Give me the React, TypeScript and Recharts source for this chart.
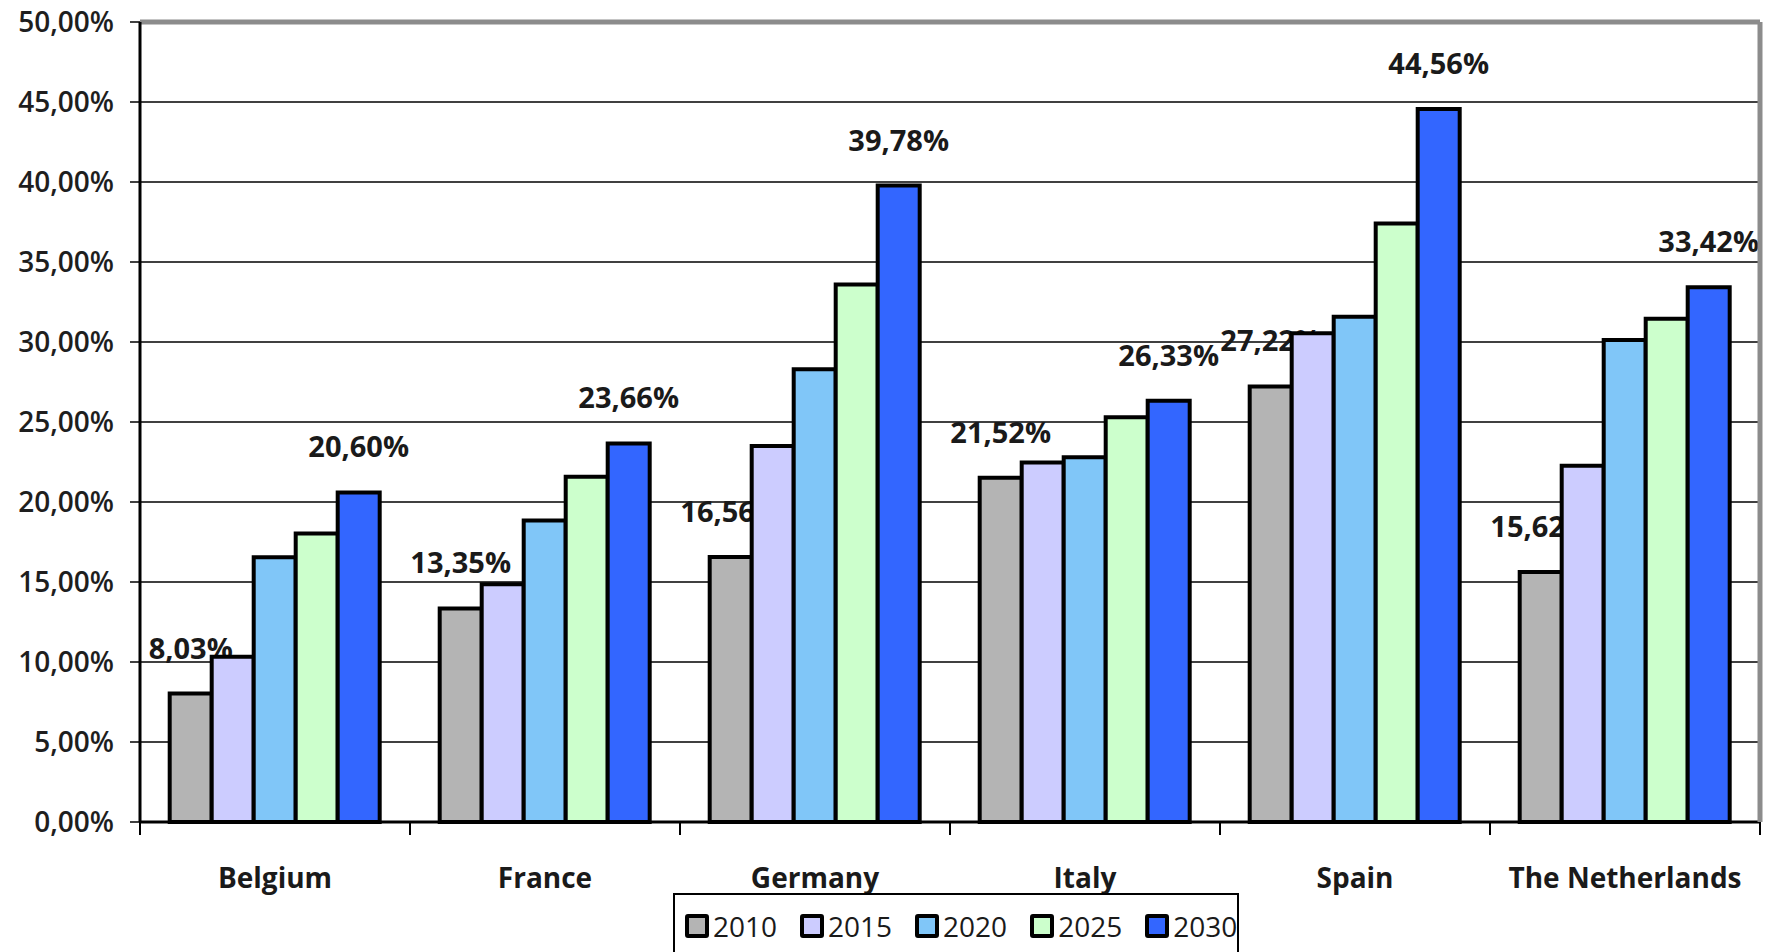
import React from 'react';
import { BarChart, Bar, XAxis, YAxis, CartesianGrid, Legend, LabelList } from 'recharts';

const countries = ['Belgium', 'France', 'Germany', 'Italy', 'Spain', 'The Netherlands'];
const years = ['2010', '2015', '2020', '2025', '2030'];
const v2010 = [8.03, 13.35, 16.56, 21.52, 27.22, 15.62];
const v2015 = [10.33, 14.86, 23.5, 22.47, 30.55, 22.26];
const v2020 = [16.55, 18.84, 28.3, 22.8, 31.58, 30.12];
const v2025 = [18.03, 21.58, 33.6, 25.3, 37.4, 31.45];
const v2030 = [20.6, 23.66, 39.78, 26.33, 44.56, 33.42];
const yTicks = [0, 5, 10, 15, 20, 25, 30, 35, 40, 45, 50];

const colors = ['#b4b4b4', '#ccccff', '#80c6f8', '#ccffcc', '#3366ff'];
const series = [v2010, v2015, v2020, v2025, v2030];

const data = countries.map((country, i) => {
  const row: Record<string, string | number> = { country };
  years.forEach((y, s) => {
    row['y' + y] = series[s][i];
  });
  return row;
});

const W = 1769;
const H = 952;
const LEFT = 140;
const RIGHT = 9;
const BAND = (W - LEFT - RIGHT) / countries.length;
const FONT = '"Open Sans", sans-serif';

const pct = (v: number) => v.toFixed(2).replace('.', ',') + '%';

const CountryTick = (props: any) => {
  const { x, y, payload, index } = props;
  const half = BAND / 2;
  return (
    <g>
      <line x1={x - half} y1={y} x2={x - half} y2={y + 13} stroke="#000" strokeWidth={2} />
      {index === countries.length - 1 && (
        <line x1={x + half} y1={y} x2={x + half} y2={y + 13} stroke="#000" strokeWidth={2} />
      )}
      <text x={x} y={y + 66} textAnchor="middle" fontSize={28} fontWeight={700} fill="#1a1a1a" fontFamily={FONT}>
        {payload.value}
      </text>
    </g>
  );
};

const LegendBox = () => (
  <div
    style={{
      border: '2px solid #000',
      background: '#fff',
      height: 80,
      boxSizing: 'border-box',
      display: 'flex',
      alignItems: 'flex-start',
      paddingLeft: 10,
      paddingTop: 16,
      fontFamily: FONT,
    }}
  >
    {years.map((y, i) => (
      <div key={y} style={{ display: 'flex', alignItems: 'center', marginRight: 23, height: 30 }}>
        <span
          style={{
            display: 'inline-block',
            width: 16,
            height: 16,
            border: '4px solid #000',
            borderRadius: 3,
            background: colors[i],
          }}
        />
        <span style={{ fontSize: 28, color: '#1a1a1a', marginLeft: 4, lineHeight: '30px' }}>{y}</span>
      </div>
    ))}
  </div>
);

export default function App() {
  return (
    <div style={{ position: 'absolute', left: 0, top: 0, width: W, height: H, overflow: 'hidden', background: '#fff' }}>
      <BarChart
        width={W}
        height={H}
        data={data}
        margin={{ top: 0, right: 0, left: 0, bottom: 0 }}
        barCategoryGap="11%"
        barGap={0}
        style={{ fontFamily: FONT }}
      >
        <CartesianGrid vertical={false} stroke="#000" strokeWidth={1.3} />
        <XAxis
          dataKey="country"
          height={130}
          axisLine={{ stroke: '#000', strokeWidth: 3 }}
          tickLine={false}
          tickSize={0}
          tickMargin={0}
          interval={0}
          tick={<CountryTick />}
        />
        <XAxis
          xAxisId="t"
          orientation="top"
          dataKey="country"
          height={22}
          tick={false}
          tickLine={false}
          axisLine={{ stroke: '#8c8c8c', strokeWidth: 5 }}
        />
        <YAxis
          width={LEFT}
          domain={[0, 50]}
          ticks={yTicks}
          tickFormatter={pct}
          tickSize={10}
          tickMargin={16}
          axisLine={{ stroke: '#000', strokeWidth: 3 }}
          tickLine={{ stroke: '#000', strokeWidth: 1.5 }}
          tick={{ fontSize: 28, fontWeight: 600, fill: '#1e1e1e', fontFamily: FONT }}
        />
        <YAxis
          yAxisId="r"
          orientation="right"
          width={RIGHT}
          tick={false}
          tickLine={false}
          axisLine={{ stroke: '#8c8c8c', strokeWidth: 5 }}
        />
        {years.map((y, i) => (
          <Bar
            key={y}
            dataKey={'y' + y}
            name={y}
            fill={colors[i]}
            stroke="#000"
            strokeWidth={4}
            isAnimationActive={false}
          >
            {(i === 0 || i === years.length - 1) && (
              <LabelList
                dataKey={'y' + y}
                position="top"
                offset={35}
                zIndex={250}
                formatter={(v: any) => pct(Number(v))}
                style={{ fontSize: 29, fontWeight: 700, fill: '#1a1a1a', fontFamily: FONT }}
              />
            )}
          </Bar>
        ))}
        <Legend
          layout="horizontal"
          verticalAlign="middle"
          align="center"
          content={<LegendBox />}
          wrapperStyle={{ left: 673, top: 893, width: 566, height: 80 }}
        />
      </BarChart>
    </div>
  );
}
